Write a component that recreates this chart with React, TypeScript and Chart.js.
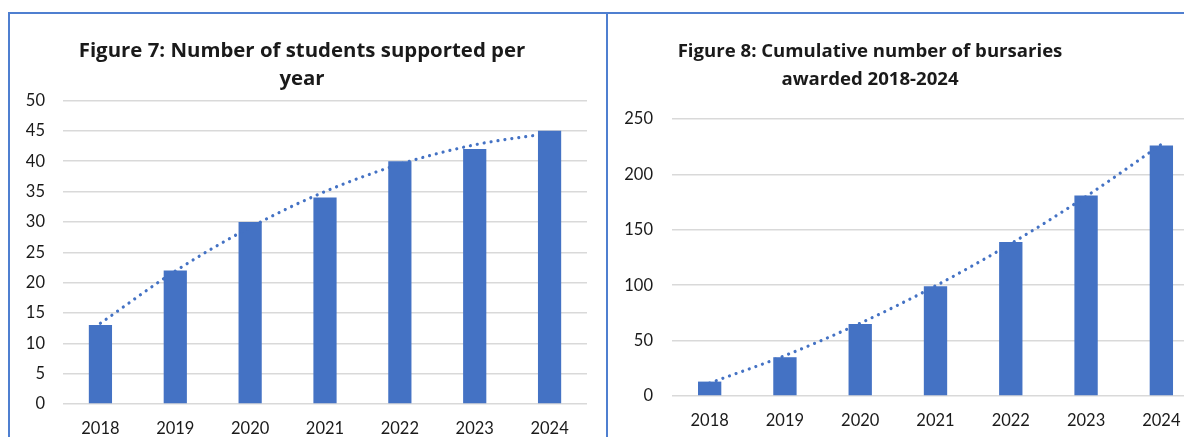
import React, { useEffect, useRef } from 'react';
import { Chart, registerables } from 'chart.js';

Chart.register(...registerables);

// ---- data ----
const years = ['2018', '2019', '2020', '2021', '2022', '2023', '2024'];
const studentsPerYear = [13, 22, 30, 34, 40, 42, 45];
const studentsTrend = [13.3, 21.9, 29.1, 35.0, 39.5, 42.7, 44.6];
const cumulativeBursaries = [13, 35, 65, 99, 139, 181, 226];
const bursariesTrend = [11.7, 36.5, 65.7, 99.4, 137.5, 180.1, 227.1];
const fig7Title = ['Figure 7: Number of students supported per', 'year'];
const fig8Title = ['Figure 8: Cumulative number of bursaries', 'awarded 2018-2024'];
const fig7Axis = { min: 0, max: 50, step: 5 };
const fig8Axis = { min: 0, max: 250, step: 50 };

const BAR = '#4472C4';
const GRID = '#D9D9D9';
const TEXT = '#1a1a1a';
const FONT = 'Lato, "Open Sans", sans-serif';
const TITLE_FONT = '"Open Sans", Lato, sans-serif';

type PanelProps = {
  title: string[];
  titleSize: number;
  titleLine: number;
  values: number[];
  trend: number[];
  axis: { min: number; max: number; step: number };
  left: number;
  top: number;
  width: number;
  height: number;
  yAxisWidth: number;
  padLeft: number;
  padRight: number;
  titlePad: { top: number; bottom: number };
  yTickPad: number;
};

function ChartPanel(p: PanelProps) {
  const ref = useRef<HTMLCanvasElement | null>(null);
  useEffect(() => {
    if (!ref.current) return;
    const chart = new Chart(ref.current, {
      type: 'bar',
      data: {
        labels: years,
        datasets: [
          {
            type: 'line',
            data: p.trend,
            borderColor: BAR,
            borderWidth: 3.2,
            borderDash: [0.01, 7],
            borderCapStyle: 'round',
            pointRadius: 0,
            fill: false,
            cubicInterpolationMode: 'monotone',
            order: 0,
          } as any,
          {
            type: 'bar',
            data: p.values,
            backgroundColor: BAR,
            borderWidth: 0,
            categoryPercentage: 1,
            barPercentage: 0.31,
            order: 1,
          } as any,
        ],
      },
      options: {
        animation: false,
        responsive: false,
        maintainAspectRatio: false,
        layout: { padding: { left: p.padLeft, right: p.padRight, top: 0, bottom: 0 } },
        plugins: {
          legend: { display: false },
          tooltip: { enabled: false },
          title: {
            display: true,
            text: p.title,
            color: TEXT,
            font: { family: TITLE_FONT, size: p.titleSize, weight: 'bold', lineHeight: p.titleLine + 'px' },
            padding: p.titlePad,
          },
        },
        scales: {
          x: {
            grid: { display: false },
            border: { display: false },
            ticks: { color: TEXT, font: { family: FONT, size: 16.5 }, padding: 7, maxRotation: 0 },
            afterFit: (s: any) => {
              s.height = 40;
            },
          },
          y: {
            min: p.axis.min,
            max: p.axis.max,
            grid: { color: GRID, lineWidth: 1.5, drawTicks: false },
            border: { display: false },
            ticks: {
              stepSize: p.axis.step,
              color: TEXT,
              font: { family: FONT, size: 16.5 },
              padding: p.yTickPad,
            },
            afterFit: (s: any) => {
              s.width = p.yAxisWidth;
            },
          },
        },
      } as any,
    });
    return () => chart.destroy();
  }, []);
  return (
    <canvas
      ref={ref}
      width={p.width}
      height={p.height}
      style={{ position: 'absolute', left: p.left, top: p.top, width: p.width, height: p.height }}
    />
  );
}

export default function App() {
  const line = '#4F7FD0';
  return (
    <div style={{ position: 'relative', width: 1184, height: 429, overflow: 'hidden', background: '#fff' }}>
      <ChartPanel
        title={fig7Title}
        titleSize={20.4}
        titleLine={27.7}
        values={studentsPerYear}
        trend={studentsTrend}
        axis={fig7Axis}
        left={1}
        top={6}
        width={596}
        height={430}
        yAxisWidth={46}
        padLeft={8}
        padRight={18}
        titlePad={{ top: 23.6, bottom: 7.5 }}
        yTickPad={18}
      />
      <ChartPanel
        title={fig8Title}
        titleSize={18.6}
        titleLine={28.3}
        values={cumulativeBursaries}
        trend={bursariesTrend}
        axis={fig8Axis}
        left={533}
        top={6}
        width={658}
        height={422}
        yAxisWidth={131}
        padLeft={0}
        padRight={0}
        titlePad={{ top: 23.2, bottom: 25.2 }}
        yTickPad={19}
      />
      <div style={{ position: 'absolute', left: 0, top: 4, width: 1184, height: 1.5, background: line }} />
      <div style={{ position: 'absolute', left: 0, top: 4, width: 1.5, height: 440, background: line }} />
      <div style={{ position: 'absolute', left: 598, top: 4, width: 1.5, height: 440, background: line }} />
    </div>
  );
}
